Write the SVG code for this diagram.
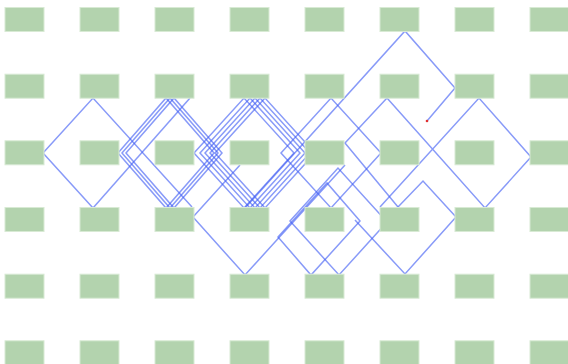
<svg xmlns="http://www.w3.org/2000/svg" width="568" height="364" viewBox="0 0 568 364">
<style>
.n{fill:#b3d3ae;stroke:#d8ead4;stroke-width:1}
.e{fill:none;stroke:#3f5cf4;stroke-opacity:0.62;stroke-width:1.5;stroke-linejoin:miter}
</style>
<defs>
<rect id="r" class="n" width="39" height="24"/>
</defs>
<rect width="568" height="364" fill="#fff"/>
<g id="connectors">
<path class="e" d="M93,208 L43,153 L93,98 L192,207"/>
<path class="e" d="M93,208 L190,98"/>
<path class="e" d="M118,153 L166,98 L214,153 L166,208 Z"/>
<path class="e" d="M122,153 L170,98 L218,153 L170,208 Z"/>
<path class="e" d="M126,153 L174,98 L222,153 L174,208 Z"/>
<path class="e" d="M194,153 L244,98 L294,153 L244,208 Z"/>
<path class="e" d="M200,153 L250,98 L300,153 L250,208 Z"/>
<path class="e" d="M205,153 L255,98 L305,153 L255,208 Z"/>
<path class="e" d="M210,153 L260,98 L310,153 L260,208 Z"/>
<path class="e" d="M215,153 L265,98 L315,153 L265,208 Z"/>
<path class="e" d="M281,153 L331,98 L381,153 L331,208 Z"/>
<path class="e" d="M245,208 L405,31 L455,88 L427,121"/>
<path class="e" d="M387,98 L485,208 L531,157 L479,98 L380,207"/>
<path class="e" d="M387,98 L345,143 L398,207"/>
<path class="e" d="M240,165 L193,217 L245,275 L345,165"/>
<path class="e" d="M278,237 L311,275 L360,221 L327,183 Z"/>
<path class="e" d="M290,221 L339,275 L387,222 L338,168 Z"/>
<path class="e" d="M355,220 L405,274 L456,217 L423,181 L398,207"/>
<circle cx="427" cy="121" r="1.3" fill="#e03030"/>
</g>
<g id="nodes">
<g id="n0"><use href="#r" x="5" y="7.5"/><use href="#r" x="80" y="7.5"/><use href="#r" x="155" y="7.5"/><use href="#r" x="230" y="7.5"/><use href="#r" x="305" y="7.5"/><use href="#r" x="380" y="7.5"/><use href="#r" x="455" y="7.5"/><use href="#r" x="530" y="7.5"/></g>
<g id="n1"><use href="#r" x="5" y="74.2"/><use href="#r" x="80" y="74.2"/><use href="#r" x="155" y="74.2"/><use href="#r" x="230" y="74.2"/><use href="#r" x="305" y="74.2"/><use href="#r" x="380" y="74.2"/><use href="#r" x="455" y="74.2"/><use href="#r" x="530" y="74.2"/></g>
<g id="n2"><use href="#r" x="5" y="140.8"/><use href="#r" x="80" y="140.8"/><use href="#r" x="155" y="140.8"/><use href="#r" x="230" y="140.8"/><use href="#r" x="305" y="140.8"/><use href="#r" x="380" y="140.8"/><use href="#r" x="455" y="140.8"/><use href="#r" x="530" y="140.8"/></g>
<g id="n3"><use href="#r" x="5" y="207.5"/><use href="#r" x="80" y="207.5"/><use href="#r" x="155" y="207.5"/><use href="#r" x="230" y="207.5"/><use href="#r" x="305" y="207.5"/><use href="#r" x="380" y="207.5"/><use href="#r" x="455" y="207.5"/><use href="#r" x="530" y="207.5"/></g>
<g id="n4"><use href="#r" x="5" y="274.2"/><use href="#r" x="80" y="274.2"/><use href="#r" x="155" y="274.2"/><use href="#r" x="230" y="274.2"/><use href="#r" x="305" y="274.2"/><use href="#r" x="380" y="274.2"/><use href="#r" x="455" y="274.2"/><use href="#r" x="530" y="274.2"/></g>
<g id="n5"><use href="#r" x="5" y="340.8"/><use href="#r" x="80" y="340.8"/><use href="#r" x="155" y="340.8"/><use href="#r" x="230" y="340.8"/><use href="#r" x="305" y="340.8"/><use href="#r" x="380" y="340.8"/><use href="#r" x="455" y="340.8"/><use href="#r" x="530" y="340.8"/></g>
</g>
</svg>
